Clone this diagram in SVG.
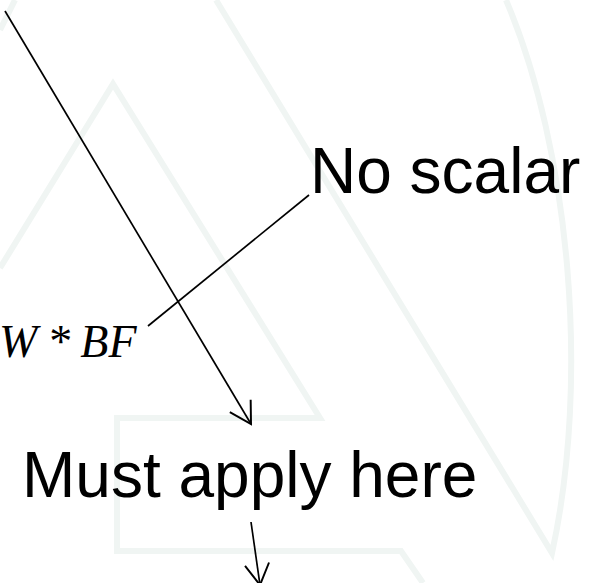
<svg xmlns="http://www.w3.org/2000/svg" width="596" height="583" viewBox="0 0 596 583">
  <style>
    .wm { fill: none; stroke: #f0f5f3; stroke-width: 6; stroke-linejoin: miter; }
    .conn { fill: none; stroke: #000; stroke-width: 1.7; }
    .lbl { font-family: "Liberation Sans", Arial, sans-serif; font-size: 64px; fill: #000; }
    .math { font-family: "Liberation Serif", "Times New Roman", serif; font-size: 46px; font-style: italic; fill: #000; }
  </style>
  <defs>
    <marker id="vhead" markerUnits="userSpaceOnUse" markerWidth="30" markerHeight="30" viewBox="-22 -13 26 26" refX="0" refY="0" orient="auto">
      <path d="M-18.2,-10.5 L0,0 L-18.2,10.5" fill="none" stroke="#000" stroke-width="1.7"/>
    </marker>
  </defs>
  <rect width="596" height="583" fill="#fff"/>
  <g id="watermark">
    <path class="wm" d="M0,30 L15,0"/>
    <path class="wm" d="M0,268 L113,84 L320,418 L117,418 L117,551 L401,551 L423,583"/>
    <path class="wm" d="M216,0 L552,553 C590,380 570,150 506,0"/>
  </g>
  <g id="connectors">
    <line class="conn" x1="5" y1="11" x2="251" y2="424" marker-end="url(#vhead)"/>
    <line class="conn" x1="148" y1="326" x2="309" y2="195"/>
    <line class="conn" x1="251" y1="522" x2="260" y2="585" marker-end="url(#vhead)"/>
  </g>
  <g id="no-scalar">
    <text class="lbl" x="310" y="193">No scalar</text>
  </g>
  <g id="wbf">
    <text class="math" x="-1" y="357">W<tspan font-style="normal" dx="12">*</tspan><tspan dx="8">BF</tspan></text>
  </g>
  <g id="must-apply">
    <text class="lbl" x="22" y="497">Must apply here</text>
  </g>
</svg>
